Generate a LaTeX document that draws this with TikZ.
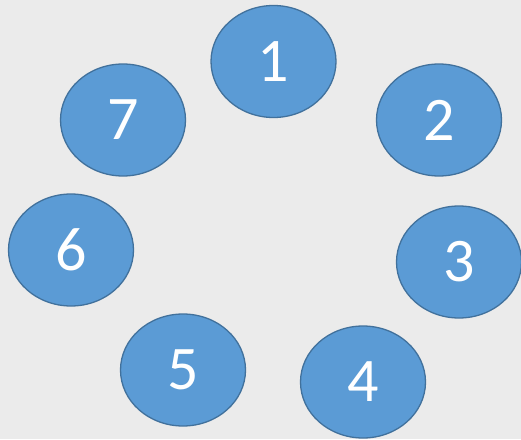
\documentclass[tikz,border=0pt]{standalone}
\usepackage{fontspec}
\setmainfont{Carlito}
\usetikzlibrary{shapes.geometric}
\definecolor{bg}{HTML}{EBEBEB}
\definecolor{fillblue}{HTML}{5B9BD5}
\definecolor{edgeblue}{HTML}{41719C}
\tikzset{
  circnode/.style={ellipse, fill=fillblue, draw=edgeblue, line width=1.3pt,
    minimum width=125pt, minimum height=112pt, inner sep=0pt,
    text=white, font=\fontsize{62}{62}\selectfont}
}
\begin{document}
\begin{tikzpicture}[x=1pt,y=-1pt]
\fill[bg] (0,0) rectangle (521,439);
\useasboundingbox (0,0) rectangle (521,439);
\node[circnode] (n1) at (273.5,61.5) {1};
\node[circnode] (n2) at (439,120) {2};
\node[circnode] (n3) at (459,262) {3};
\node[circnode] (n4) at (363,382) {4};
\node[circnode] (n5) at (183,370) {5};
\node[circnode] (n6) at (71,250) {6};
\node[circnode] (n7) at (123,120) {7};
\end{tikzpicture}
\end{document}
